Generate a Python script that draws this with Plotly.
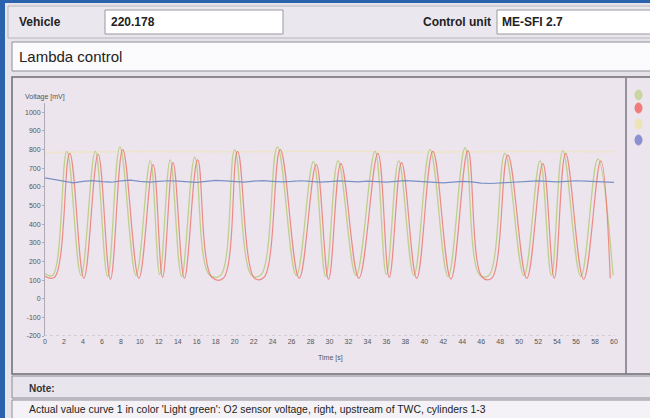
import plotly.graph_objects as go

W, H = 650, 418

# ---------------- data ----------------
green_t = [0.0, 0.8, 2.3, 3.8, 5.3, 6.6, 7.9, 9.6, 11.1, 12.1, 13.2, 14.4, 15.8, 17.3, 18.5,
           20.0, 21.8, 22.8, 24.5, 26.5, 28.3, 29.6, 30.9, 32.8, 34.8, 36.0, 37.3, 38.9,
           40.6, 42.5, 44.3, 45.8, 46.8, 48.5, 50.5, 52.2, 53.4, 54.6, 56.5, 58.3, 59.9]
green_v = [135, 125, 790, 125, 790, 120, 815, 125, 740, 130, 745, 120, 760, 130, 125,
           800, 125, 130, 815, 125, 735, 120, 740, 125, 790, 130, 740, 125,
           800, 120, 810, 130, 125, 780, 125, 740, 125, 795, 120, 750, 125]

red_t = [0.0, 1.0, 2.6, 4.1, 5.6, 6.9, 8.2, 9.9, 11.4, 12.4, 13.5, 14.7, 16.1, 17.6, 18.8,
         20.3, 22.1, 23.1, 24.8, 26.8, 28.6, 29.9, 31.2, 33.1, 35.1, 36.3, 37.6, 39.2,
         40.9, 42.8, 44.6, 46.1, 47.1, 48.8, 50.8, 52.5, 53.7, 54.9, 56.8, 58.6, 59.6]
red_v = [120, 115, 780, 110, 775, 105, 800, 110, 720, 115, 730, 110, 745, 115, 110,
         790, 110, 115, 800, 110, 720, 105, 725, 110, 780, 115, 730, 110,
         790, 105, 795, 115, 110, 770, 110, 725, 110, 780, 105, 740, 110]

blue_t = list(range(0, 61))
blue_v = [648, 640, 628, 622, 630, 634, 628, 625, 632, 636, 630, 626, 629, 633, 631, 627,
          624, 630, 635, 632, 628, 626, 631, 634, 630, 627, 629, 633, 630, 625, 628, 632,
          630, 627, 631, 629, 626, 630, 634, 631, 628, 625, 622, 626, 629, 627, 620, 618,
          622, 626, 628, 630, 632, 629, 627, 630, 633, 631, 628, 626, 624]

yellow_t = [0, 10, 20, 30, 40, 50, 60]
yellow_v = [785, 790, 788, 792, 786, 790, 788]

x_ticks = list(range(0, 61, 2))
y_ticks = list(range(-200, 1001, 100))


def px(x):
    return x / W


def py(y):
    return 1 - y / H


fig = go.Figure()
fig.add_trace(go.Scatter(x=yellow_t, y=yellow_v, mode="lines",
                         line=dict(color="rgba(240,228,170,0.55)", width=1.5), hoverinfo="skip"))
fig.add_trace(go.Scatter(x=green_t, y=green_v, mode="lines",
                         line=dict(color="rgba(190,205,135,0.95)", width=1.3, shape="spline", smoothing=1.1)))
fig.add_trace(go.Scatter(x=red_t, y=red_v, mode="lines",
                         line=dict(color="rgba(236,100,90,0.7)", width=1.2, shape="spline", smoothing=1.1)))
fig.add_trace(go.Scatter(x=blue_t, y=blue_v, mode="lines",
                         line=dict(color="rgba(115,140,195,0.95)", width=1.2)))

shapes = []


def rect(x0, y0, x1, y1, fill, line="#8a8790", lw=1, layer="below"):
    shapes.append(dict(type="rect", xref="paper", yref="paper",
                       x0=px(x0), x1=px(x1), y0=py(y1), y1=py(y0),
                       fillcolor=fill, line=dict(color=line, width=lw), layer=layer))


# window frame
rect(0, 0, 650, 418, "#e7e3ea", line="rgba(0,0,0,0)", lw=0)
rect(0, 0, 650, 3, "#2b62ad", line="rgba(0,0,0,0)", lw=0)
rect(0, 0, 5, 418, "#2b62ad", line="rgba(0,0,0,0)", lw=0)
# header row
rect(8, 6, 652, 38, "#ebe7ee", line="#b9b5be")
rect(105, 10, 283, 34, "#ffffff", line="#9a97a0")
rect(497, 10, 652, 34, "#ffffff", line="#9a97a0")
# title row
rect(12, 42, 652, 71, "#fbfafc", line="#8f8c95")
# chart panel
rect(12, 77, 652, 374, "#ece5ed", line="#6e6b73", lw=1.5)
shapes.append(dict(type="line", xref="paper", yref="paper", x0=px(626), x1=px(626),
                   y0=py(374), y1=py(78), line=dict(color="#7a7780", width=1.5), layer="below"))
# note row
rect(12, 376, 652, 398, "#e9e5ec", line="#8f8c95")
# bottom text row
rect(12, 400, 652, 420, "#f4f2f6", line="#8f8c95")

# dotted baseline at -200
shapes.append(dict(type="line", xref="paper", yref="y", x0=px(44), x1=px(615), y0=-200, y1=-200,
                   line=dict(color="#b9b3bd", width=1, dash="dot"), layer="below"))

# legend markers on the right column
for yy, col in [(95, "#c9d6a0"), (108, "#ef7b7b"), (124, "#eee3b5"), (140, "#8c8fd0")]:
    shapes.append(dict(type="circle", xref="paper", yref="paper",
                       x0=px(635), x1=px(642), y0=py(yy + 5), y1=py(yy - 5),
                       fillcolor=col, line=dict(color=col, width=1), layer="above"))

font = "Liberation Sans, Arial, sans-serif"
annotations = [
    dict(text="<b>Vehicle</b>", x=px(17), y=py(22), xanchor="left", yanchor="middle",
         font=dict(size=12, color="#222", family=font)),
    dict(text="<b>220.178</b>", x=px(109), y=py(22), xanchor="left", yanchor="middle",
         font=dict(size=12, color="#222", family=font)),
    dict(text="<b>Control unit</b>", x=px(493), y=py(22), xanchor="right", yanchor="middle",
         font=dict(size=12, color="#222", family=font)),
    dict(text="<b>ME-SFI 2.7</b>", x=px(500), y=py(22), xanchor="left", yanchor="middle",
         font=dict(size=12, color="#222", family=font)),
    dict(text="Lambda control", x=px(17), y=py(57), xanchor="left", yanchor="middle",
         font=dict(size=15, color="#222", family=font)),
    dict(text="Voltage [mV]", x=px(23), y=py(97), xanchor="left", yanchor="middle",
         font=dict(size=7, color="#555", family=font)),
    dict(text="Time [s]", x=px(330), y=py(358), xanchor="center", yanchor="middle",
         font=dict(size=7, color="#555", family=font)),
    dict(text="<b>Note:</b>", x=px(27), y=py(388), xanchor="left", yanchor="middle",
         font=dict(size=10, color="#333", family=font)),
    dict(text="Actual value curve 1 in color 'Light green': O2 sensor voltage, right, upstream of TWC, cylinders 1-3",
         x=px(27), y=py(409), xanchor="left", yanchor="middle",
         font=dict(size=10.4, color="#222", family=font)),
]
for a in annotations:
    a.update(xref="paper", yref="paper", showarrow=False)

fig.update_layout(
    width=W, height=H,
    margin=dict(l=0, r=0, t=0, b=0),
    paper_bgcolor="#e7e3ea",
    plot_bgcolor="rgba(0,0,0,0)",
    showlegend=False,
    shapes=shapes,
    annotations=annotations,
    xaxis=dict(domain=[px(45), px(614)], range=[0, 60], tickvals=x_ticks,
               ticktext=[str(v) for v in x_ticks], showgrid=False, zeroline=False,
               showline=False, ticks="", tickfont=dict(size=7, color="#555", family=font),
               automargin=False),
    yaxis=dict(domain=[py(336), py(103)], range=[-200, 1050], tickvals=y_ticks,
               ticktext=[str(v) for v in y_ticks], showgrid=False, zeroline=False,
               showline=True, linecolor="#b0aab5", linewidth=1, ticks="outside", ticklen=2,
               tickcolor="#b0aab5", tickfont=dict(size=7, color="#555", family=font),
               automargin=False),
)

fig.write_html("out.html",
               config={"displayModeBar": False},
               post_script="document.body.style.margin='0';document.body.style.padding='0';"
                           "document.body.style.overflow='hidden';")
